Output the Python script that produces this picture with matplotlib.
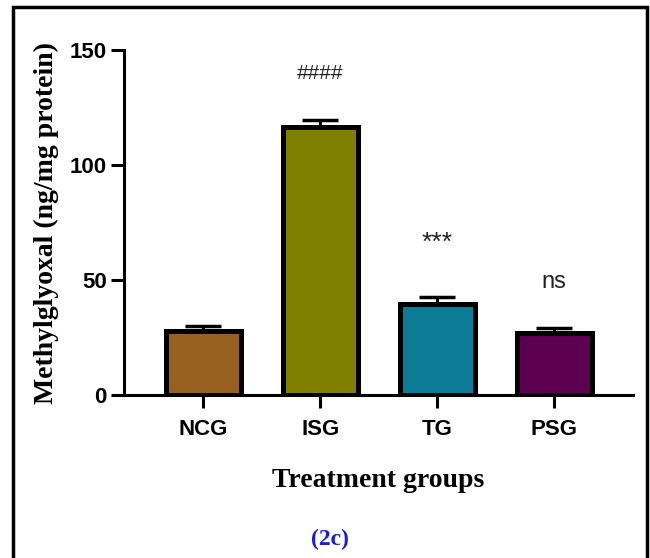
import matplotlib.pyplot as plt
from matplotlib.patches import Rectangle

groups = ['NCG', 'ISG', 'TG', 'PSG']
means = [27.8, 116.5, 39.6, 27.0]
errors = [2.2, 3.0, 3.0, 2.2]
colors = ['#96621F', '#7F7F00', '#0B7C96', '#5E0050']
marks = ['', '####', '***', 'ns']
mark_y = [None, 140, 66, 49]

fig = plt.figure(figsize=(6.5, 5.58), dpi=100)
ax = fig.add_axes([0.191, 0.292, 0.783, 0.618])

x = range(len(groups))
ax.bar(x, means, width=0.64, color=colors, edgecolor='black', linewidth=3.6, zorder=2)
ax.errorbar(x, means, yerr=[[0] * len(errors), errors], fmt='none', ecolor='black',
            elinewidth=2.2, capsize=13, capthick=2.5, zorder=1)

for i, m in enumerate(marks):
    if m:
        fs = {'####': 15, '***': 19, 'ns': 17}[m]
        ax.text(i, mark_y[i], m, ha='center', va='center', fontsize=fs,
                family='Liberation Sans', color='#222222')

ax.set_xlim(-0.675, 3.675)
ax.set_ylim(0, 150)
ax.set_yticks([0, 50, 100, 150])
ax.set_xticks(list(x))
ax.set_xticklabels(groups)

for s in ['top', 'right']:
    ax.spines[s].set_visible(False)
for s in ['left', 'bottom']:
    ax.spines[s].set_linewidth(2.2)

ax.tick_params(axis='both', width=2.2, length=9.5, direction='out')
ax.tick_params(axis='x', pad=8)
ax.tick_params(axis='y', pad=3)
for lab in ax.get_xticklabels() + ax.get_yticklabels():
    lab.set_family('Liberation Sans')
    lab.set_fontweight('bold')
    lab.set_fontsize(16)

ax.set_ylabel('Methylglyoxal (ng/mg protein)', family='Liberation Serif',
              fontweight='bold', fontsize=20, labelpad=8)
ax.set_xlabel('Treatment groups', family='Liberation Serif',
              fontweight='bold', fontsize=20, labelpad=20)

fig.text(0.508, 0.033, '(2c)', family='Liberation Serif', fontweight='bold',
         fontsize=17, color='#1A1AE0', ha='center', va='center')

# outer frame
fig.patches.append(Rectangle((13 / 650, -0.05), (647 - 13) / 650, 1.05 - 7 / 558,
                             transform=fig.transFigure, fill=False,
                             edgecolor='black', linewidth=2.5))

fig.savefig('out.png', dpi=100)
